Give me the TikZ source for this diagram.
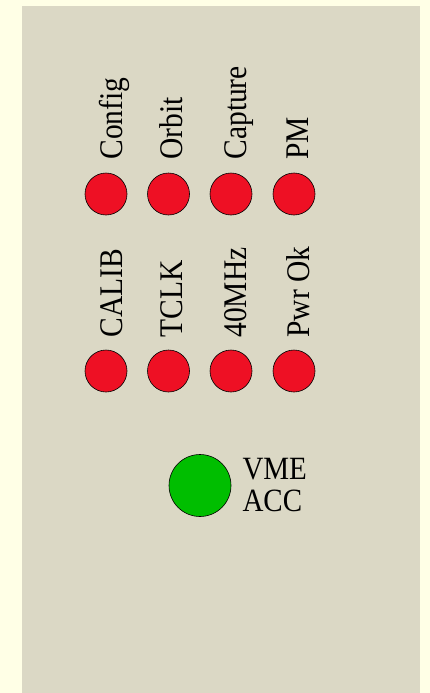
\documentclass[tikz,border=0pt]{standalone}
\usepackage{graphicx}
\usepackage{fontspec}
\setmainfont{Liberation Serif}
\usetikzlibrary{positioning}
\definecolor{bgyellow}{RGB}{255,255,230}
\definecolor{panelgray}{RGB}{219,216,197}
\definecolor{ledred}{RGB}{238,16,36}
\definecolor{ledgreen}{RGB}{0,190,0}
\newcommand{\tallfont}[1]{\scalebox{1}[1.12]{#1}}
\tikzset{
  led/.style={circle, draw=black, line width=0.6pt, fill=ledred, minimum size=42pt, inner sep=0pt},
  ledlabel/.style={rotate=90, anchor=base west, inner sep=0pt, font=\fontsize{29.5}{32}\selectfont},
}
\begin{document}
\begin{tikzpicture}[x=1pt, y=-1pt]
                \fill[bgyellow] (0,0) rectangle (430,693);
                \useasboundingbox (0,0) rectangle (430,693);
                \fill[panelgray] (22,6) rectangle (420,693);
                % top row
                \node[led] (config) at (106,194) {};
                \node[led] (orbit) at (168.5,194) {};
                \node[led] (capture) at (231,194) {};
                \node[led] (pm) at (294,194) {};
                \node[ledlabel] (configtxt) at ([shift={(16pt,13pt)}]config.north) {\tallfont{Config}};
                \node[ledlabel] (orbittxt) at ([shift={(14pt,13pt)}]orbit.north) {\tallfont{Orbit}};
                \node[ledlabel] (capturetxt) at ([shift={(15pt,13pt)}]capture.north) {\tallfont{Capture}};
                \node[ledlabel] (pmtxt) at ([shift={(14pt,13pt)}]pm.north) {\tallfont{PM}};
                % bottom row
                \node[led] (calib) at (106,371) {};
                \node[led] (tclk) at (168.5,371) {};
                \node[led] (mhz) at (231,371) {};
                \node[led] (pwrok) at (294,371) {};
                \node[ledlabel] (calibtxt) at ([shift={(16pt,12pt)}]calib.north) {\tallfont{CALIB}};
                \node[ledlabel] (tclktxt) at ([shift={(14pt,12pt)}]tclk.north) {\tallfont{TCLK}};
                \node[ledlabel] (mhztxt) at ([shift={(15pt,12pt)}]mhz.north) {\tallfont{40MHz}};
                \node[ledlabel] (pwroktxt) at ([shift={(15pt,12pt)}]pwrok.north) {\tallfont{Pwr Ok}};
                % vme access
                \node[led, fill=ledgreen, minimum size=62pt] (vme) at (200,485.5) {};
                \node[right=11pt of vme, inner sep=0pt, align=left, font=\fontsize{29}{32}\selectfont] (vmetxt) {\tallfont{VME}\\\tallfont{ACC}};
\end{tikzpicture}
\end{document}
